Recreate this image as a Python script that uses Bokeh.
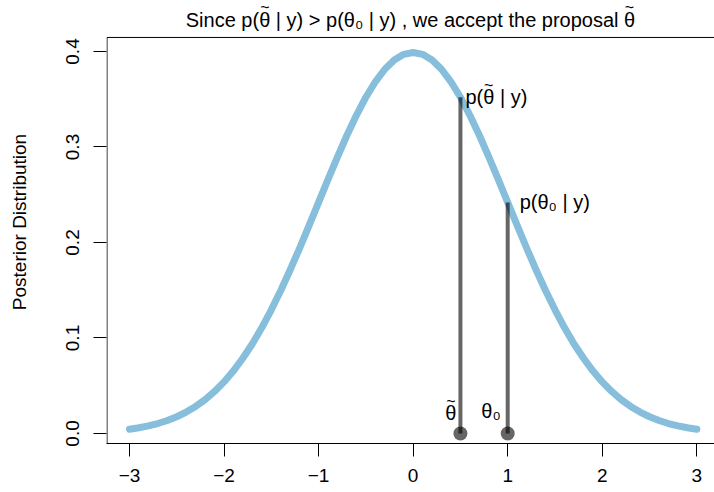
from bokeh.plotting import figure
from bokeh.models import Range1d, FixedTicker, ColumnDataSource, BoxAnnotation
from bokeh.embed import file_html
from bokeh.resources import INLINE
from bokeh.core.properties import value

# ---- data ----
theta_grid = [round(-3.0 + 0.1 * i, 1) for i in range(61)]
density_right = [0.3989, 0.3970, 0.3910, 0.3814, 0.3683, 0.3521, 0.3332, 0.3123,
                 0.2897, 0.2661, 0.2420, 0.2179, 0.1942, 0.1714, 0.1497, 0.1295,
                 0.1109, 0.0940, 0.0790, 0.0656, 0.0540, 0.0440, 0.0355, 0.0283,
                 0.0224, 0.0175, 0.0136, 0.0104, 0.0079, 0.0060, 0.0044]
density = density_right[:0:-1] + density_right  # symmetric curve, -3 .. 3

theta_tilde = 0.5
p_tilde = 0.3521
theta_0 = 1.0
p_0 = 0.2420

x_ticks = [-3, -2, -1, 0, 1, 2, 3]
x_tick_labels = ["\u22123", "\u22122", "\u22121", "0", "1", "2", "3"]
y_ticks = [0.0, 0.1, 0.2, 0.3, 0.4]
y_tick_labels = ["0.0", "0.1", "0.2", "0.3", "0.4"]

# theta-tilde is drawn as a theta with a separate "~" placed above it
title_text = "Since p(\u03b8 | y) > p(\u03b8\u2080 | y) , we accept the proposal \u03b8"
label_tilde = "p(\u03b8 | y)"
label_0 = "p(\u03b8\u2080 | y)"
point_tilde = "\u03b8"
point_0 = "\u03b8\u2080"
TILDE = "~"

FONT = "Liberation Sans"

# ---- layout (axis limits) ----
X_START, X_END = -3.243, 3.187
Y_START, Y_END = -0.0105, 0.4534     # plot area reaches the top of the page
BOX_TOP = 0.4147                      # upper edge of the framed box
PX = (X_END - X_START) / 608          # one pixel in x data units

p = figure(width=714, height=492, output_backend="svg", toolbar_location=None,
           x_range=Range1d(X_START, X_END), y_range=Range1d(Y_START, Y_END),
           min_border_left=106, min_border_right=0, min_border_top=0,
           min_border_bottom=49)
p.background_fill_color = "white"
p.border_fill_color = "white"
p.outline_line_color = None
p.grid.visible = False

# axes
for ax in [p.xaxis[0], p.yaxis[0]]:
    ax.axis_line_color = "black"
    ax.major_tick_line_color = "black"
    ax.minor_tick_line_color = None
    ax.major_tick_in = 0
    ax.major_tick_out = 13
    ax.major_label_text_font = FONT
    ax.major_label_text_font_size = "19px"
    ax.major_label_text_color = "black"

p.xaxis.ticker = FixedTicker(ticks=x_ticks)
p.xaxis.major_label_overrides = {t: l for t, l in zip(x_ticks, x_tick_labels)}
p.xaxis.major_label_standoff = 12

p.yaxis.ticker = FixedTicker(ticks=y_ticks)
p.yaxis.major_label_overrides = {t: l for t, l in zip(y_ticks, y_tick_labels)}
p.yaxis.major_label_orientation = "vertical"
p.yaxis.major_label_standoff = 14
p.yaxis.axis_line_color = None
p.yaxis.axis_label = "Posterior Distribution"
p.yaxis.axis_label_text_font = FONT
p.yaxis.axis_label_text_font_size = "19px"
p.yaxis.axis_label_text_font_style = "normal"
p.yaxis.axis_label_text_color = "black"
p.yaxis.axis_label_standoff = 34

# framed box (left and top edges; right edge lies beyond the page)
p.add_layout(BoxAnnotation(left=X_START + 0.5 * PX, right=X_END + 1,
                           bottom=Y_START, top=BOX_TOP, fill_alpha=0,
                           line_color="black", line_alpha=1.0, line_width=1,
                           level="underlay"))

# curve
p.line(theta_grid, density, line_color="#86BEDC", line_width=7,
       line_join="round", line_cap="round")

# segments and points
seg = ColumnDataSource(dict(x=[theta_tilde, theta_0], y0=[0, 0], y1=[p_tilde, p_0]))
p.segment(x0="x", y0="y0", x1="x", y1="y1", source=seg, line_color="black",
          line_alpha=0.6, line_width=4)
p.scatter(x=[theta_tilde, theta_0], y=[0, 0], size=14, fill_color="black",
          fill_alpha=0.6, line_color=None)

# title (drawn as text at the top of the page)
title_x = (X_START + X_END) / 2
p.text(x=[title_x], y=[Y_END], text=[title_text], text_font=value(FONT),
       text_font_size="20px", text_color="black", text_align="center",
       text_baseline="middle", y_offset=19)

# labels
lab = dict(text_font=value(FONT), text_font_size="20px", text_color="black",
           text_baseline="middle")
p.text(x=[theta_tilde], y=[p_tilde], text=[label_tilde], text_align="left",
       x_offset=5, **lab)
p.text(x=[theta_0], y=[p_0], text=[label_0], text_align="left",
       x_offset=12, **lab)
p.text(x=[theta_tilde], y=[0], text=[point_tilde], text_align="right",
       x_offset=-4, y_offset=-20, **lab)
p.text(x=[theta_0], y=[0], text=[point_0], text_align="right",
       x_offset=-7, y_offset=-22, **lab)

# tildes above the thetas
til = dict(text_font=value(FONT), text_font_size="16px", text_color="black",
           text_baseline="middle", text_align="center")
p.text(x=[theta_tilde], y=[p_tilde], text=[TILDE], x_offset=5 + 23.3,
       y_offset=-12, **til)
p.text(x=[theta_tilde], y=[0], text=[TILDE], x_offset=-4 - 5.6,
       y_offset=-32, **til)
p.text(x=[title_x, title_x], y=[Y_END, Y_END], text=[TILDE, TILDE],
       x_offset=[-145.7, 219.0], y_offset=7, **til)

open("out.html", "w").write(file_html(p, INLINE))
